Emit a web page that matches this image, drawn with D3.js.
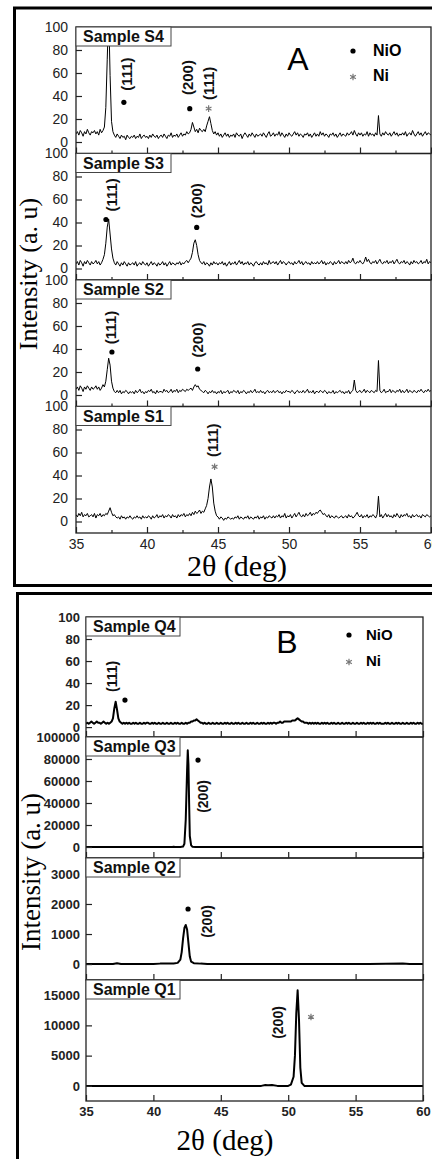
<!DOCTYPE html>
<html>
<head>
<meta charset="utf-8">
<script src="https://cdn.jsdelivr.net/npm/d3@7"></script>
<style>
  body { margin: 0; background: #fff; }
  svg { display: block; }
</style>
</head>
<body>
<div id="container"></div>
<script>
/* DATA */
// panel A: intensity every 0.1 deg from 35.0 to 60.0
const gridStart = 35, gridStep = 0.1
const xTicks = [35, 40, 45, 50, 55, 60]
const xMinor = [37.5, 42.5, 47.5, 52.5, 57.5]
const ticksA = [0, 20, 40, 60, 80, 100]

const s4 = [
  7,9,6,10,8,5,9,7,11,8,
  6,9,8,10,7,9,6,11,8,10,
  13,30,72,115,58,18,9,6,4,7,
  5,3,6,4,5,2,6,4,3,5,
  4,6,3,5,4,7,3,5,6,4,
  5,3,6,4,7,5,4,6,3,5,
  6,4,7,5,3,6,5,8,4,6,
  5,7,4,6,8,5,7,6,9,7,
  8,11,17,13,9,11,8,12,10,9,
  11,9,14,18,22,16,10,7,9,6,
  8,5,7,4,6,8,5,7,4,6,
  5,7,4,8,6,5,7,3,6,8,
  6,4,7,5,8,6,4,7,5,6,
  7,5,8,6,4,7,9,5,6,8,
  5,7,6,9,5,8,6,4,7,5,
  8,6,5,7,9,6,8,5,7,6,
  4,7,6,8,5,7,4,6,8,5,
  7,5,9,6,8,5,7,6,4,7,
  6,8,5,7,4,6,8,5,7,6,
  5,8,6,7,9,6,10,7,5,8,
  6,8,5,7,6,9,5,8,6,7,
  5,8,6,23,7,5,8,6,9,7,
  6,8,5,7,9,6,8,5,7,6,
  8,6,9,5,7,8,6,10,7,5,
  7,9,6,8,5,7,9,6,8,7,
  6
]
const s3 = [
  4,6,3,7,5,2,6,4,7,5,
  3,6,4,5,7,4,6,3,5,8,
  12,22,36,43,30,17,9,5,3,6,
  4,2,5,3,6,4,2,5,3,4,
  5,3,6,2,4,5,3,6,4,3,
  5,2,4,6,3,5,4,2,5,3,
  4,6,3,5,2,4,6,3,5,4,
  3,5,4,6,3,5,4,6,7,5,
  7,9,14,22,25,20,12,7,5,4,
  6,3,5,4,2,5,3,6,4,5,
  3,5,4,6,3,5,2,4,6,3,
  5,4,6,3,5,7,4,6,3,5,
  4,6,3,5,4,2,5,6,4,3,
  5,3,6,4,5,3,7,4,5,6,
  4,6,3,5,7,4,6,5,3,5,
  6,4,5,3,6,4,5,7,4,6,
  3,5,6,4,5,3,6,4,5,4,
  6,4,5,7,4,6,3,5,4,6,
  5,3,6,4,5,7,4,6,5,4,
  6,4,7,5,6,9,5,4,6,5,
  7,5,4,6,10,6,8,5,4,6,
  5,7,4,6,8,5,4,6,5,7,
  4,6,5,7,4,6,8,5,4,6,
  5,7,4,6,5,3,6,4,7,5,
  6,4,5,7,4,6,5,8,4,6,
  5
]
const s2 = [
  5,7,4,8,6,3,7,5,8,6,
  4,7,5,6,8,5,7,4,6,9,
  7,12,22,32,26,12,6,3,2,4,
  2,4,1,3,2,4,3,1,3,2,
  3,1,4,2,3,5,2,3,1,3,
  2,4,3,5,2,3,1,4,2,3,
  3,2,5,3,4,2,3,5,2,4,
  3,5,2,4,3,5,4,3,5,4,
  5,6,4,7,9,7,8,5,4,3,
  2,4,3,1,3,2,4,2,3,1,
  3,2,4,1,3,2,3,4,1,3,
  2,4,3,2,4,1,3,2,4,3,
  1,3,2,4,2,3,5,2,3,2,
  4,2,3,1,3,4,2,3,2,4,
  2,3,4,2,3,1,3,2,4,3,
  3,2,4,3,1,3,4,2,3,2,
  4,2,3,5,2,3,2,4,1,3,
  3,2,4,3,2,4,3,1,3,2,
  2,4,1,3,2,3,4,2,3,1,
  3,2,4,1,3,4,13,4,2,3,
  4,2,3,5,2,4,3,2,4,3,
  2,4,3,30,4,2,3,5,2,3,
  3,5,2,4,3,2,4,3,5,2,
  4,2,3,5,2,4,3,2,4,3,
  2,4,3,5,3,2,4,3,5,3,
  4
]
const s1 = [
  6,4,7,5,8,4,6,5,7,4,
  5,6,4,7,3,6,5,7,4,6,
  5,7,6,9,12,8,5,6,4,3,
  4,2,5,3,4,2,4,3,5,3,
  2,4,3,5,3,4,2,5,3,4,
  3,5,4,2,5,3,4,6,3,5,
  4,6,3,5,4,6,5,3,6,4,
  5,3,6,4,6,5,7,4,6,5,
  7,5,8,6,9,7,8,10,7,9,
  8,11,14,20,30,37,30,16,9,5,
  4,2,4,3,1,3,2,4,3,2,
  3,2,4,3,5,2,4,3,2,4,
  3,5,2,4,3,2,4,3,5,2,
  4,3,5,2,4,3,5,4,3,5,
  3,5,4,6,3,5,4,7,3,5,
  4,6,3,5,7,4,6,8,5,4,
  6,4,7,5,6,8,5,7,6,8,
  7,9,10,8,6,7,5,4,6,3,
  5,4,3,5,4,3,4,5,3,4,
  5,3,6,4,5,3,4,6,8,5,
  4,6,3,5,4,6,3,5,4,6,
  5,3,6,22,4,6,3,5,7,4,
  6,4,5,3,6,4,7,5,3,6,
  4,6,5,7,4,5,3,6,4,5,
  6,4,5,3,6,5,4,6,5,4,
  5
]

// panel B: smoother scans
const q4 = [
  3,4,3,4,5,4,3,4,5,4,
  4,3,4,5,4,3,4,3,4,5,
  8,17,23,16,8,5,4,3,4,3,
  4,3,4,3,3,4,3,4,3,3,
  4,3,3,4,3,4,4,3,3,4,
  3,4,3,3,4,3,3,4,3,3,
  4,3,3,4,3,3,4,3,4,3,
  3,4,3,3,4,3,4,4,5,5,
  6,6,7,6,5,4,4,3,4,3,
  3,4,3,3,4,3,3,4,3,3,
  4,3,3,4,3,4,3,3,4,3,
  3,4,3,4,3,3,4,3,3,4,
  3,3,4,3,4,3,3,4,3,3,
  4,3,4,3,3,4,3,4,3,4,
  4,3,4,4,5,4,4,5,5,5,
  5,5,5,6,6,6,7,8,7,6,
  5,5,4,4,4,3,4,3,4,3,
  4,3,4,3,3,4,3,4,3,4,
  3,3,4,3,4,3,3,4,3,3,
  4,3,3,4,3,4,3,3,4,3,
  3,4,3,3,4,3,4,3,3,4,
  3,4,3,4,3,3,4,3,4,3,
  3,3,4,3,4,3,3,4,3,3,
  4,3,4,3,3,4,3,3,4,3,
  3,4,3,4,3,3,4,3,4,3,
  3
]
// [2theta, intensity] read at the turning points
const q3 = [[35,0],[41.4,0],[41.5,300],[41.6,0],[42.0,0],[42.2,400],[42.3,3000],[42.4,25000],[42.5,70000],
  [42.55,88000],[42.6,75000],[42.65,40000],[42.7,10000],[42.8,1500],[42.9,300],[43.1,0],[60,0]]
const q2 = [[35,0],[37.0,0],[37.3,25],[37.6,0],[40,0],[40.5,15],[41.5,20],[41.8,40],[42.0,150],[42.1,400],
  [42.2,850],[42.3,1200],[42.4,1300],[42.5,1150],[42.6,700],[42.7,250],[42.8,80],[43.0,30],[43.5,15],
  [44,5],[56,0],[58.5,20],[59,0],[60,0]]
const q1 = [[35,0],[48.0,0],[48.3,150],[48.5,100],[48.8,150],[49.2,0],[50.0,0],[50.2,200],[50.4,1500],
  [50.5,5000],[50.6,12000],[50.7,15800],[50.8,11000],[50.9,3000],[51.0,500],[51.2,0],[60,0]]

const ticksQ4 = [0, 20, 40, 60, 80, 100]
const ticksQ3 = [0, 20000, 40000, 60000, 80000, 100000]
const ticksQ2 = [0, 1000, 2000, 3000]
const ticksQ1 = [0, 5000, 10000, 15000]

// peak marks: kind, label, 2theta, intensity
const annS4 = [["text","(111)",38.58,59],["dot","",38.37,34.5],["text","(200)",42.87,56],["dot","",43.01,29],
  ["text","(111)",44.34,51],["star","",44.34,29]]
const annS3 = [["text","(111)",37.53,64],["dot","",37.11,42.6],["text","(200)",43.53,59],["dot","",43.5,35.7]]
const annS2 = [["text","(111)",37.46,58.7],["dot","",37.53,37.4],["text","(200)",43.57,47.8],["dot","",43.57,22.6]]
const annS1 = [["text","(111)",44.62,70.7],["star","",44.76,47.6]]
const annQ4 = [["text","(111)",36.93,46],["dot","",37.89,24.5]]
const annQ3 = [["text","(200)",43.68,45900],["dot","",43.31,79000]]
const annQ2 = [["text","(200)",43.98,1417],["dot","",42.57,1833]]
const annQ1 = [["text","(200)",49.24,10478],["star","",51.69,11386]]

/* SETUP */
const sans = "'Liberation Sans', Arial, sans-serif"
const serif = "'Liberation Serif', 'Times New Roman', serif"
const gridPts = vals => vals.map((v, i) => [gridStart + i * gridStep, v])

const svg = d3.select("#container").append("svg")
  .attr("width", 432).attr("height", 1159)

// outer borders
svg.append("rect").attr("x", 14.5).attr("y", 8).attr("width", 440).attr("height", 577.5)
  .attr("fill", "none").attr("stroke", "#000").attr("stroke-width", 3)
svg.append("rect").attr("x", 17.5).attr("y", 593.5).attr("width", 440).attr("height", 620)
  .attr("fill", "none").attr("stroke", "#000").attr("stroke-width", 3)

let clipId = 0

function drawPanel(o) {
  const y = d3.scaleLinear().domain(o.domain).range([o.bottom, o.top])
  const x = o.x
  const g = svg.append("g")
  const id = "clip" + (clipId++)
  g.append("clipPath").attr("id", id).append("rect")
    .attr("x", x.range()[0]).attr("y", o.top)
    .attr("width", x.range()[1] - x.range()[0]).attr("height", o.bottom - o.top)

  g.append("path").datum(o.points)
    .attr("clip-path", "url(#" + id + ")")
    .attr("fill", "none").attr("stroke", "#000")
    .attr("stroke-width", o.lineW).attr("stroke-linejoin", "round")
    .attr("d", d3.line().x(d => x(d[0])).y(d => y(d[1])))

  // y axis, ticks inward
  const ya = g.append("g").attr("transform", "translate(" + x.range()[0] + ",0)")
    .call(d3.axisLeft(y).tickValues(o.yTicks).tickSize(-6).tickPadding(o.pad).tickFormat(d3.format("d")))
  ya.select(".domain").remove()
  ya.selectAll("line").attr("stroke", "#222").attr("stroke-width", 1.2)
  ya.selectAll("text").attr("font-family", sans).attr("font-size", o.tickFont)
    .attr("font-weight", o.bold ? "bold" : "normal").attr("fill", "#222")

  // x axis at bottom of every panel
  const xa = g.append("g").attr("transform", "translate(0," + o.bottom + ")")
    .call(d3.axisBottom(x).tickValues(xTicks).tickSize(-6).tickPadding(o.xPad)
      .tickFormat(o.last ? d3.format("d") : ""))
  xa.select(".domain").remove()
  xa.selectAll("line").attr("stroke", "#222").attr("stroke-width", 1.2)
  xa.selectAll("text").attr("font-family", sans).attr("font-size", o.tickFont)
    .attr("font-weight", o.bold ? "bold" : "normal").attr("fill", "#222")
  if (o.minor) {
    const xm = g.append("g").attr("transform", "translate(0," + o.bottom + ")")
      .call(d3.axisBottom(x).tickValues(xMinor).tickSize(-3).tickFormat(""))
    xm.select(".domain").remove()
    xm.selectAll("line").attr("stroke", "#222").attr("stroke-width", 1.2)
  }

  // frame
  g.append("rect").attr("x", x.range()[0]).attr("y", o.top)
    .attr("width", x.range()[1] - x.range()[0]).attr("height", o.bottom - o.top)
    .attr("fill", "none").attr("stroke", "#222").attr("stroke-width", 1.3)

  // sample box
  g.append("rect").attr("x", x.range()[0]).attr("y", o.top)
    .attr("width", o.boxW).attr("height", 19)
    .attr("fill", "#fff").attr("stroke", "#444").attr("stroke-width", 1)
  g.append("text").attr("x", x.range()[0] + 7).attr("y", o.top + 15)
    .attr("font-family", sans).attr("font-weight", "bold").attr("font-size", 16)
    .attr("fill", "#111").text(o.name)

  // peak annotations
  o.ann.forEach(a => {
    const px = x(a[2]), py = y(a[3])
    if (a[0] === "text") {
      g.append("text").attr("transform", "translate(" + px + "," + py + ") rotate(-90)")
        .attr("text-anchor", "middle").attr("dy", "0.35em")
        .attr("font-family", sans).attr("font-weight", "bold").attr("font-size", o.annFont)
        .attr("fill", "#111").text(a[1])
    } else if (a[0] === "dot") {
      g.append("circle").attr("cx", px).attr("cy", py).attr("r", 2.6).attr("fill", "#000")
    } else {
      g.append("path").attr("transform", "translate(" + px + "," + py + ")")
        .attr("d", d3.symbol(d3.symbolAsterisk, 30)())
        .attr("fill", "none").attr("stroke", "#777").attr("stroke-width", 1.2)
    }
  })
}

/* PANEL A */
const xA = d3.scaleLinear().domain([35, 60]).range([76, 431])
const seriesA = [["Sample S4", s4, annS4], ["Sample S3", s3, annS3], ["Sample S2", s2, annS2], ["Sample S1", s1, annS1]]
const hA = 126.5
seriesA.forEach((s, i) => {
  drawPanel({
    name: s[0], points: gridPts(s[1]), ann: s[2], x: xA,
    top: 27 + i * hA, bottom: 27 + (i + 1) * hA, domain: [-10, 100], yTicks: ticksA,
    lineW: 1, tickFont: 14, bold: false, pad: 8, xPad: 6, boxW: 95, annFont: 15,
    minor: true, last: i === 3
  })
})

/* PANEL B */
const xB = d3.scaleLinear().domain([35, 60]).range([86, 423])
const seriesB = [
  ["Sample Q4", gridPts(q4), annQ4, [-9, 100], ticksQ4],
  ["Sample Q3", q3, annQ3, [-10000, 100000], ticksQ3],
  ["Sample Q2", q2, annQ2, [-530, 3530], ticksQ2],
  ["Sample Q1", q1, annQ1, [-2500, 17500], ticksQ1]
]
const topsB = [617, 737, 858, 980, 1101]
seriesB.forEach((s, i) => {
  drawPanel({
    name: s[0], points: s[1], ann: s[2], x: xB,
    top: topsB[i], bottom: topsB[i + 1], domain: s[3], yTicks: s[4],
    lineW: 2, tickFont: 13, bold: true, pad: 6, xPad: 6, boxW: 94, annFont: 14,
    minor: false, last: i === 3
  })
})

/* LABELS AND LEGENDS */
svg.append("text").attr("transform", "translate(28,274) rotate(-90)")
  .attr("text-anchor", "middle").attr("dy", "0.35em")
  .attr("font-family", serif).attr("font-size", 26).text("Intensity (a. u)")
svg.append("text").attr("transform", "translate(31,872) rotate(-90)")
  .attr("text-anchor", "middle").attr("dy", "0.35em")
  .attr("font-family", serif).attr("font-size", 27).text("Intensity (a. u)")

svg.append("text").attr("x", 237).attr("y", 576).attr("text-anchor", "middle")
  .attr("font-family", serif).attr("font-size", 30).text("2θ (deg)")
svg.append("text").attr("x", 225).attr("y", 1150).attr("text-anchor", "middle")
  .attr("font-family", serif).attr("font-size", 29).text("2θ (deg)")

function legend(letterX, letterY, mx, textX, y1, y2, fs) {
  svg.append("text").attr("x", letterX).attr("y", letterY).attr("text-anchor", "middle")
    .attr("font-family", sans).attr("font-size", 32).text(letterX > 290 ? "A" : "B")
  svg.append("circle").attr("cx", mx).attr("cy", y1 - 5).attr("r", 2.6).attr("fill", "#000")
  svg.append("text").attr("x", textX).attr("y", y1).attr("font-family", sans)
    .attr("font-weight", "bold").attr("font-size", fs).text("NiO")
  svg.append("path").attr("transform", "translate(" + mx + "," + (y2 - 4) + ")")
    .attr("d", d3.symbol(d3.symbolAsterisk, 30)())
    .attr("fill", "none").attr("stroke", "#777").attr("stroke-width", 1.2)
  svg.append("text").attr("x", textX).attr("y", y2).attr("font-family", sans)
    .attr("font-weight", "bold").attr("font-size", fs).text("Ni")
}
legend(298, 70, 353, 373, 56, 81, 16)
legend(287, 653, 349, 366, 640, 666, 15)
</script>
</body>
</html>
